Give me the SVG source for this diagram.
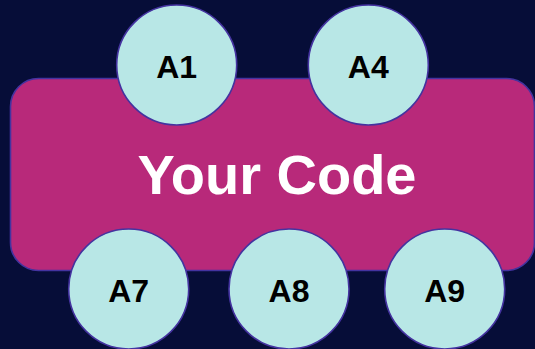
<svg xmlns="http://www.w3.org/2000/svg" width="535" height="349" viewBox="0 0 535 349">
<style>
.node{fill:#b8e7e6;stroke:#4433a0;stroke-width:1.6}
.lbl{font-family:"Liberation Sans",Arial,sans-serif;font-weight:bold;font-size:32px;fill:#000;text-anchor:middle}
</style>
<rect width="535" height="349" fill="#060d38"/>
<g id="code">
<rect x="10.5" y="78.5" width="524" height="192" rx="28" ry="28" fill="#b8297a" stroke="#4433a0" stroke-width="1.6"/>
<text x="277" y="193.5" font-family="Liberation Sans, Arial, sans-serif" font-weight="bold" font-size="56" fill="#fff" text-anchor="middle">Your Code</text>
</g>
<g id="connectors"></g>
<g id="a1"><circle class="node" cx="176.7" cy="65" r="60"/><text class="lbl" x="176.7" y="77.5">A1</text></g>
<g id="a4"><circle class="node" cx="368.3" cy="65" r="60"/><text class="lbl" x="368.3" y="77.5">A4</text></g>
<g id="a7"><circle class="node" cx="128.7" cy="289" r="60"/><text class="lbl" x="128.7" y="301.5">A7</text></g>
<g id="a8"><circle class="node" cx="289" cy="289" r="60"/><text class="lbl" x="289" y="301.5">A8</text></g>
<g id="a9"><circle class="node" cx="444.7" cy="289" r="60"/><text class="lbl" x="444.7" y="301.5">A9</text></g>
</svg>
